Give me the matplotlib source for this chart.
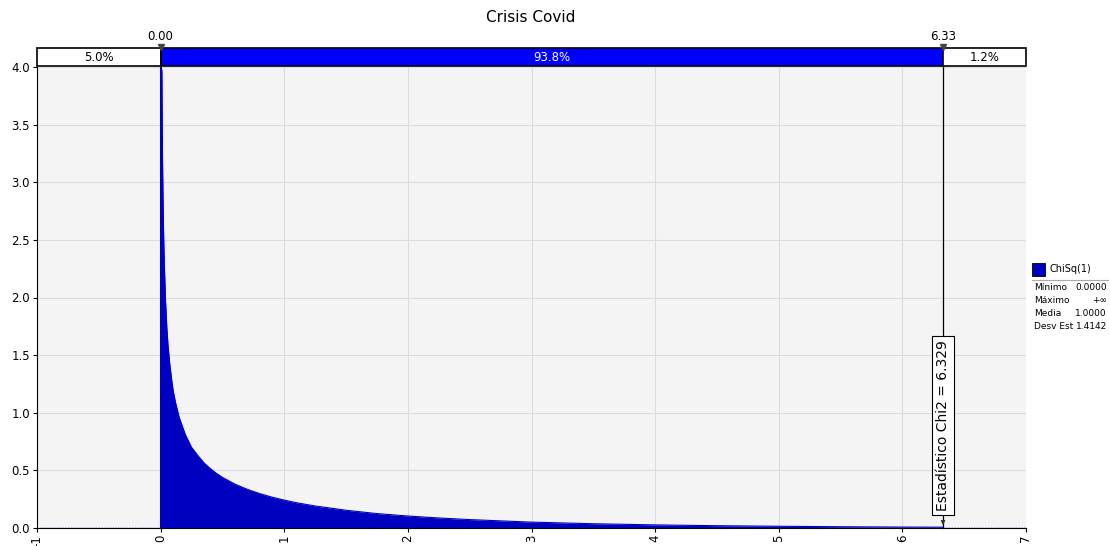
import matplotlib
matplotlib.use("Agg")
import matplotlib.pyplot as plt
from matplotlib.patches import Rectangle

x_vals = [0.0, 0.01, 0.012, 0.015, 0.02, 0.025, 0.03, 0.04, 0.05, 0.06, 0.075, 0.09, 0.1, 0.12,
          0.15, 0.2, 0.25, 0.3, 0.35, 0.4, 0.45, 0.5, 0.6, 0.7, 0.8, 0.9,
          1.0, 1.1, 1.25, 1.5, 1.75, 2.0, 2.25, 2.5, 3.0, 3.5, 4.0, 4.5, 5.0, 5.5, 6.0, 6.329]
y_vals = [4.0, 3.97, 3.62, 3.23, 2.80, 2.50, 2.28, 1.96, 1.74, 1.58, 1.41, 1.28, 1.20, 1.09,
          0.96, 0.81, 0.70, 0.63, 0.566, 0.517, 0.475, 0.439, 0.381, 0.336, 0.299, 0.268,
          0.242, 0.219, 0.191, 0.154, 0.125, 0.104, 0.087, 0.073, 0.051, 0.037, 0.027, 0.020, 0.015, 0.011, 0.008, 0.007]

x_ticks = [-1, 0, 1, 2, 3, 4, 5, 6, 7]
y_ticks = [0.0, 0.5, 1.0, 1.5, 2.0, 2.5, 3.0, 3.5, 4.0]

lim_inf = 0.00
lim_sup = 6.33
estadistico = 6.329
pct_izq, pct_centro, pct_der = 5.0, 93.8, 1.2

stats_names = ["Mínimo", "Máximo", "Media", "Desv Est"]
stats_values = ["0.0000", "+∞", "1.0000", "1.4142"]

W, H = 1110, 546
fig = plt.figure(figsize=(W / 100, H / 100), dpi=100)

def px(l, t, r, b):
    return [l / W, (H - b) / H, (r - l) / W, (b - t) / H]

ax = fig.add_axes(px(37, 67, 1026, 528))
ax.set_facecolor("#F4F4F4")
ax.set_xlim(-1, 7)
ax.set_ylim(0, 4.0)
ax.set_xticks(x_ticks)
ax.set_xticklabels([str(t) for t in x_ticks], rotation=90, fontsize=8.5)
ax.set_yticks(y_ticks)
ax.set_yticklabels([f"{t:.1f}" for t in y_ticks], fontsize=8.5)
ax.grid(True, color="#DCDCDC", linewidth=0.8)
ax.set_axisbelow(True)
for s in ["top", "right"]:
    ax.spines[s].set_visible(False)
ax.tick_params(length=3, pad=2)

ax.fill_between(x_vals, 0, y_vals, color="#0000C0", linewidth=0, zorder=2)
ax.plot(x_vals, y_vals, color="#0000C0", linewidth=0.8, zorder=2)
ax.plot([lim_inf, lim_inf], [0, 4.0], color="#0000C0", linewidth=1.5, zorder=3)
ax.plot([-1, 0], [0, 0], color="#0000C0", linewidth=1, linestyle=(0, (1, 1)), zorder=3)
ax.plot([estadistico, 7], [0, 0], color="#0000C0", linewidth=1, linestyle=(0, (1, 1)), zorder=3)

# línea del estadístico y etiqueta
ax.plot([estadistico, estadistico], [0, 4.0], color="black", linewidth=0.9, zorder=4, clip_on=False)
ax.text(estadistico, 0.89, f"Estadístico Chi2 = {estadistico:.3f}", rotation=90,
        ha="center", va="center", fontsize=10, zorder=5,
        bbox=dict(boxstyle="square,pad=0.3", facecolor="white", edgecolor="black", linewidth=0.8))
ax.annotate("", xy=(estadistico, 0.0), xytext=(estadistico, 0.08),
            arrowprops=dict(arrowstyle="-|>", color="#333333", lw=0.8, mutation_scale=6), zorder=5)

fig.text(531 / W, (H - 17) / H, "Crisis Covid", fontsize=11, ha="center", va="center")

# banda superior con porcentajes
band = fig.add_axes(px(37, 48, 1026, 66))
band.set_xlim(-1, 7)
band.set_ylim(0, 1)
band.axis("off")
for x0, x1, fc in [(-1, lim_inf, "white"), (lim_inf, lim_sup, "#0000FF"), (lim_sup, 7, "white")]:
    band.add_patch(Rectangle((x0, 0), x1 - x0, 1, facecolor=fc, edgecolor="black",
                             linewidth=1.2, clip_on=False))
band.text((-1 + lim_inf) / 2, 0.45, f"{pct_izq:.1f}%", ha="center", va="center", fontsize=8.5)
band.text((lim_inf + lim_sup) / 2, 0.45, f"{pct_centro:.1f}%", ha="center", va="center", fontsize=8.5, color="white")
band.text((lim_sup + 7) / 2, 0.45, f"{pct_der:.1f}%", ha="center", va="center", fontsize=8.5)
for v in [lim_inf, lim_sup]:
    band.plot([v], [1.05], marker="v", color="#444444", markersize=5, clip_on=False)
    band.text(v, 1.25, f"{v:.2f}", ha="center", va="bottom", fontsize=8.5)

# leyenda con estadísticos
fig.patches.append(Rectangle((1032 / W, (H - 276) / H), 13 / W, 13 / H, transform=fig.transFigure,
                             facecolor="#0000C0", edgecolor="black", linewidth=0.6))
fig.text(1050 / W, (H - 269) / H, "ChiSq(1)", fontsize=7, va="center")
fig.add_artist(plt.Line2D([1032 / W, 1108 / W], [(H - 280) / H] * 2, color="#AAAAAA", linewidth=0.8))
for i, (n, v) in enumerate(zip(stats_names, stats_values)):
    y = (H - (288 + 12.7 * i)) / H
    fig.text(1034 / W, y, n, fontsize=6.5, va="center")
    fig.text(1107 / W, y, v, fontsize=6.5, va="center", ha="right")

fig.savefig("out.png", dpi=100)
